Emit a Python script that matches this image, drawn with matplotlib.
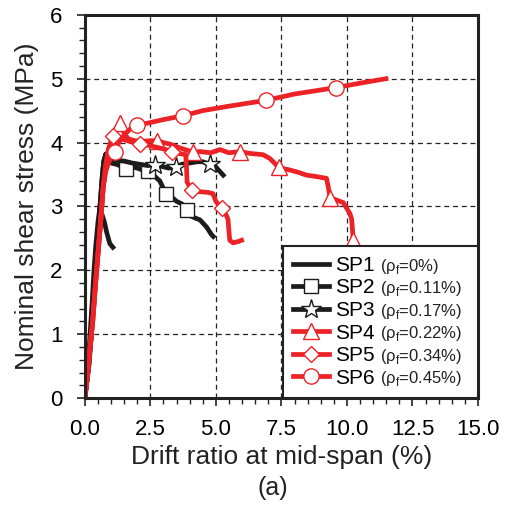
import matplotlib
matplotlib.use('Agg')
import matplotlib.pyplot as plt
from matplotlib.lines import Line2D
from matplotlib.ticker import MultipleLocator, FormatStrFormatter
from matplotlib.transforms import IdentityTransform

plt.rcParams['font.family'] = ['Liberation Sans', 'DejaVu Sans']
plt.rcParams['mathtext.fontset'] = 'custom'
plt.rcParams['mathtext.rm'] = 'Liberation Sans'

# 데이터
sp1_x = [0, 0.12, 0.2, 0.28, 0.35, 0.42, 0.5, 0.57, 0.65, 0.75, 0.83, 0.95, 1.07]
sp1_y = [0, 0.5, 1.0, 1.5, 2.0, 2.4, 2.75, 2.97, 2.88, 2.75, 2.6, 2.42, 2.36]

sp2_x = [0, 0.15, 0.25, 0.33, 0.42, 0.5, 0.58, 0.65, 0.72, 0.8, 0.9, 1.0, 1.2, 1.4, 1.57,
         1.8, 2.0, 2.2, 2.42, 2.6, 2.75, 2.86, 3.09, 3.3, 3.5, 3.7, 3.88, 4.0, 4.2,
         4.39, 4.64, 4.83, 4.9]
sp2_y = [0, 0.5, 1.0, 1.5, 2.0, 2.5, 3.0, 3.4, 3.7, 3.82, 3.74, 3.68, 3.66, 3.63, 3.58,
         3.62, 3.6, 3.57, 3.55, 3.5, 3.44, 3.4, 3.2, 3.15, 3.08, 3.04, 2.95, 2.86, 2.82,
         2.79, 2.68, 2.56, 2.53]
sp2_marks = [14, 18, 22, 26]

sp3_x = [0, 0.15, 0.25, 0.33, 0.42, 0.5, 0.58, 0.65, 0.72, 0.8, 0.95, 1.1, 1.3, 1.5, 1.8,
         2.1, 2.4, 2.67, 2.9, 3.2, 3.47, 3.7, 4.0, 4.3, 4.5, 4.77, 4.95, 5.1, 5.28]
sp3_y = [0, 0.5, 1.0, 1.5, 2.0, 2.5, 3.0, 3.4, 3.7, 3.82, 3.78, 3.74, 3.72, 3.71, 3.68,
         3.66, 3.64, 3.65, 3.63, 3.6, 3.62, 3.66, 3.68, 3.7, 3.7, 3.66, 3.64, 3.57, 3.49]
sp3_marks = [17, 20, 25]

sp4_x = [0, 0.1, 0.2, 0.3, 0.4, 0.5, 0.6, 0.7, 0.8, 0.9, 1.0, 1.15, 1.35, 1.5, 1.65,
         1.9, 2.2, 2.5, 2.74, 3.0, 3.3, 3.6, 3.9, 4.13, 4.39, 4.8, 5.15, 5.5, 5.92,
         6.3, 6.8, 7.06, 7.4, 7.82, 8.1, 8.46, 8.8, 9.22, 9.29, 9.35, 9.6, 9.86,
         10.11, 10.18, 10.22, 10.24]
sp4_y = [0, 0.35, 0.8, 1.2, 1.75, 2.25, 2.75, 3.3, 3.65, 3.85, 4.02, 4.2, 4.3, 4.15, 4.06,
         4.03, 4.02, 4.03, 4.03, 4.0, 3.97, 3.92, 3.88, 3.85, 3.86, 3.84, 3.89, 3.84, 3.86,
         3.83, 3.81, 3.75, 3.61, 3.57, 3.54, 3.49, 3.47, 3.44, 3.3, 3.14, 3.1, 3.06,
         2.89, 2.8, 2.58, 2.48]
sp4_marks = [12, 18, 23, 28, 32, 39, 45]

sp5_x = [0, 0.1, 0.2, 0.3, 0.4, 0.5, 0.6, 0.7, 0.8, 0.9, 1.08, 1.25, 1.45, 1.7, 1.9,
         2.12, 2.4, 2.7, 3.0, 3.33, 3.6, 3.85, 3.88, 3.9, 4.07, 4.2, 4.39, 4.7, 4.89,
         5.0, 5.22, 5.4, 5.46, 5.5, 5.53, 5.66, 5.85, 5.98]
sp5_y = [0, 0.35, 0.8, 1.2, 1.75, 2.25, 2.75, 3.3, 3.65, 3.9, 4.11, 4.1, 4.05, 4.02, 4.0,
         3.98, 3.96, 3.93, 3.9, 3.86, 3.83, 3.81, 3.6, 3.38, 3.26, 3.24, 3.23, 3.22, 3.2,
         3.08, 2.97, 2.86, 2.8, 2.6, 2.47, 2.43, 2.45, 2.47]
sp5_marks = [10, 15, 19, 24, 30]

sp6_x = [0, 0.1, 0.2, 0.3, 0.4, 0.5, 0.6, 0.7, 0.8, 0.9, 1.0, 1.15, 1.3, 1.5, 1.75, 2.0,
         2.35, 3.0, 3.75, 4.5, 5.5, 6.9, 8.0, 9.57, 10.5, 11.49]
sp6_y = [0, 0.35, 0.8, 1.2, 1.75, 2.25, 2.75, 3.3, 3.55, 3.68, 3.76, 3.86, 4.0, 4.12, 4.22,
         4.28, 4.3, 4.36, 4.42, 4.5, 4.57, 4.66, 4.76, 4.86, 4.93, 5.0]
sp6_marks = [11, 15, 18, 21, 23]

names = ['SP1', 'SP2', 'SP3', 'SP4', 'SP5', 'SP6']
ratios = ['0%', '0.11%', '0.17%', '0.22%', '0.34%', '0.45%']

black = '#1c1c1c'
red = '#ec2227'

fig = plt.figure(figsize=(5.08, 5.11), dpi=100)
ax = fig.add_axes([0.167, 0.221, 0.774, 0.75])

series = [
    (sp1_x, sp1_y, black, None, None, 0),
    (sp2_x, sp2_y, black, 's', sp2_marks, 10),
    (sp3_x, sp3_y, black, '*', sp3_marks, 15),
    (sp4_x, sp4_y, red, '^', sp4_marks, 11),
    (sp5_x, sp5_y, red, 'D', sp5_marks, 8.5),
    (sp6_x, sp6_y, red, 'o', sp6_marks, 11),
]

handles = []
for x, y, c, m, marks, ms in series:
    ax.plot(x, y, color=c, lw=3.4, marker=m, markevery=marks, ms=ms,
            mfc='white', mec=c, mew=1.0, solid_joinstyle='round')
    handles.append(Line2D([], [], color=c, lw=3.4, marker=m, ms=ms,
                          mfc='white', mec=c, mew=1.0))

ax.set_xlim(0, 15)
ax.set_ylim(0, 6)
ax.xaxis.set_major_locator(MultipleLocator(2.5))
ax.xaxis.set_minor_locator(MultipleLocator(0.5))
ax.xaxis.set_major_formatter(FormatStrFormatter('%.1f'))
ax.yaxis.set_major_locator(MultipleLocator(1))
ax.yaxis.set_minor_locator(MultipleLocator(0.2))
ax.tick_params(which='major', direction='out', length=6, width=1.2, labelsize=16,
               color='#222222')
ax.tick_params(which='minor', direction='out', length=4, width=1.0, color='#222222')
ax.tick_params(axis='x', pad=9)
ax.tick_params(axis='y', pad=10)
ax.grid(True, which='major', color='#222222', lw=0.9, ls=(0, (4, 3)))
ax.set_axisbelow(True)
for s in ax.spines.values():
    s.set_linewidth(2.2)
    s.set_color('#222222')

ax.set_xlabel('Drift ratio at mid-span (%)', fontsize=19, labelpad=4, color='#222222')
ax.set_ylabel('Nominal shear stress (MPa)', fontsize=19, labelpad=8, color='#222222')
fig.text(0.537, 0.045, '(a)', fontsize=18, ha='center', va='center', color='#222222')

leg = ax.legend(handles, names, loc='lower left', bbox_to_anchor=(0.504, 0, 0.496, 0.405),
                mode='expand', borderaxespad=0, fontsize=15, borderpad=0.5,
                labelspacing=0.17, handlelength=1.7, handletextpad=0.3,
                fancybox=False, framealpha=1, edgecolor='#222222', numpoints=1)
leg.get_frame().set_linewidth(1.5)
leg.set_zorder(5)

# 범례 괄호 부분 (작은 글씨)
fig.canvas.draw()
r = fig.canvas.get_renderer()
fs_px = 15 * 100 / 72
for t, rt in zip(leg.get_texts(), ratios):
    bb = t.get_window_extent(r)
    fig.text(bb.x1 + 5, bb.y0 + 0.21 * fs_px, '(ρ$_\\mathregular{f}$=' + rt + ')',
             fontsize=12, va='baseline', ha='left', transform=IdentityTransform(),
             color='#222222', zorder=10)

fig.savefig('out.png', dpi=100)
